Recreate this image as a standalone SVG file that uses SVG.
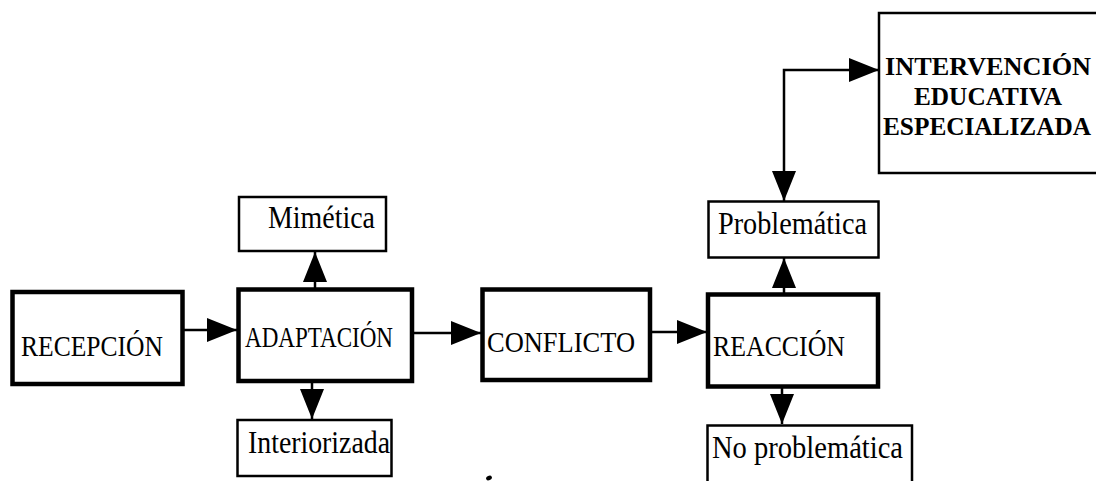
<svg xmlns="http://www.w3.org/2000/svg" width="1096" height="481" viewBox="0 0 1096 481">
  <style>
    .main { fill: #ffffff; stroke: #000000; stroke-width: 4.5; }
    .sub { fill: #ffffff; stroke: #000000; stroke-width: 2.5; }
    .lbl { font-family: "Liberation Serif", "Times New Roman", serif; font-size: 31px; fill: #000000; }
    .caps { font-family: "Liberation Serif", "Times New Roman", serif; font-size: 29px; fill: #000000; }
    .bold { font-family: "Liberation Serif", "Times New Roman", serif; font-size: 25.5px; font-weight: bold; fill: #000000; }
    .edge { fill: none; stroke: #000000; stroke-width: 2.5; }
  </style>
  <defs>
    <marker id="ah" markerUnits="userSpaceOnUse" markerWidth="30" markerHeight="24" refX="30" refY="12" orient="auto-start-reverse">
      <path d="M0,0 L30,12 L0,24 Z" fill="#000000"/>
    </marker>
  </defs>
  <rect width="1096" height="481" fill="#ffffff"/>

  <!-- connectors -->
  <g id="connectors">
    <line class="edge" x1="183" y1="330" x2="237" y2="330" marker-end="url(#ah)"/>
    <line class="edge" x1="412" y1="333" x2="481" y2="333" marker-end="url(#ah)"/>
    <line class="edge" x1="650" y1="332" x2="707" y2="332" marker-end="url(#ah)"/>
    <line class="edge" x1="312" y1="382" x2="312" y2="419" marker-end="url(#ah)"/>
    <line class="edge" x1="315" y1="288" x2="315" y2="252" marker-end="url(#ah)"/>
    <line class="edge" x1="782" y1="388" x2="782" y2="424" marker-end="url(#ah)"/>
    <line class="edge" x1="784" y1="294" x2="784" y2="258" marker-end="url(#ah)"/>
    <polyline class="edge" points="784,201 784,70 879,70" marker-start="url(#ah)" marker-end="url(#ah)"/>
  </g>

  <!-- main stages -->
  <g id="recepcion">
    <rect class="main" x="12.5" y="292" width="170" height="92"/>
    <text class="caps" x="21" y="356" textLength="142" lengthAdjust="spacingAndGlyphs">RECEPCIÓN</text>
  </g>
  <g id="adaptacion">
    <rect class="main" x="238.5" y="289.5" width="173.5" height="91.5"/>
    <text class="caps" x="245" y="347" font-size="26" textLength="148" lengthAdjust="spacingAndGlyphs">ADAPTACIÓN</text>
  </g>
  <g id="conflicto">
    <rect class="main" x="482.5" y="289.5" width="167.5" height="90.5"/>
    <text class="caps" x="487" y="352" textLength="148" lengthAdjust="spacingAndGlyphs">CONFLICTO</text>
  </g>
  <g id="reaccion">
    <rect class="main" x="708" y="294.5" width="170" height="92"/>
    <text class="caps" x="713" y="356" textLength="132" lengthAdjust="spacingAndGlyphs">REACCIÓN</text>
  </g>

  <!-- outcomes -->
  <g id="mimetica">
    <rect class="sub" x="239" y="197" width="147" height="54"/>
    <text class="lbl" x="268" y="228" textLength="107" lengthAdjust="spacingAndGlyphs">Mimética</text>
  </g>
  <g id="interiorizada">
    <rect class="sub" x="237.5" y="420" width="154" height="56"/>
    <text class="lbl" x="248" y="453" textLength="142" lengthAdjust="spacingAndGlyphs">Interiorizada</text>
  </g>
  <g id="problematica">
    <rect class="sub" x="708.5" y="201.5" width="170" height="56"/>
    <text class="lbl" x="718" y="234" textLength="149" lengthAdjust="spacingAndGlyphs">Problemática</text>
  </g>
  <g id="no-problematica">
    <rect class="sub" x="707.5" y="425.5" width="204.5" height="80"/>
    <text class="lbl" x="712" y="458" textLength="191" lengthAdjust="spacingAndGlyphs">No problemática</text>
  </g>
  <g id="intervencion">
    <rect class="sub" x="879" y="13" width="240" height="160"/>
    <text class="bold" x="885" y="75" textLength="206" lengthAdjust="spacingAndGlyphs">INTERVENCIÓN</text>
    <text class="bold" x="914" y="105" textLength="148" lengthAdjust="spacingAndGlyphs">EDUCATIVA</text>
    <text class="bold" x="883" y="135" textLength="208" lengthAdjust="spacingAndGlyphs">ESPECIALIZADA</text>
  </g>

  <!-- small ink speck -->
  <ellipse cx="489" cy="478" rx="3" ry="2.2" transform="rotate(-25 489 478)" fill="#000000"/>
</svg>
